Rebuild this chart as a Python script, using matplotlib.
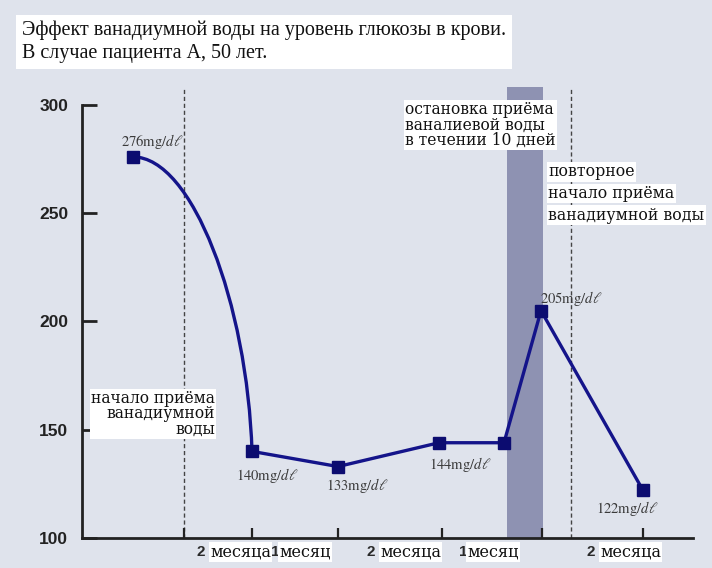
import matplotlib
matplotlib.use("Agg")
import matplotlib.pyplot as plt
from matplotlib.path import Path
from matplotlib.patches import PathPatch
import matplotlib.transforms as mtrans

# ---- data ----
point_x = [51, 170, 256, 357, 422, 459, 561]          # timeline positions (arbitrary units)
glucose = [276, 140, 133, 144, 144, 205, 122]          # mg/dl
value_labels = ["276", "140", "133", "144", None, "205", "122"]
tick_x = [102, 170, 256, 360, 460, 561]
y_ticks = [100, 150, 200, 250, 300]
period_nums = ["2 ", "1", "2 ", "1", "2 "]
period_words = ["месяца", "месяц", "месяца", "месяц", "месяца"]
period_x = [128, 197, 298, 385, 518]
dashed_x = [102, 489]
pause_band = [425, 461]

title = "Эффект ванадиумной воды на уровень глюкозы в крови.\nВ случае пациента А, 50 лет."
note_start = ["начало приёма", "ванадиумной", "воды"]
note_stop = "остановка приёма\nваналиевой воды\nв течении 10 дней"
note_restart = ["повторное", "начало приёма", "ванадиумной воды"]

BG = "#dfe3ec"
LINE = "#14148a"
MARK = "#0c0c70"

plt.rcParams["mathtext.fontset"] = "stix"

fig = plt.figure(figsize=(7.12, 5.68), dpi=100, facecolor=BG)
W, H = 712, 568
ax = fig.add_axes([82 / W, 30 / H, (693 - 82) / W, (538 - 87) / H])
ax.set_facecolor(BG)
ax.set_xlim(0, 611)
ax.set_ylim(100, 300 + 18 / 108.5 * 50)

for s in ["top", "right"]:
    ax.spines[s].set_visible(False)
ax.spines["left"].set_bounds(100, 300)
for s in ["left", "bottom"]:
    ax.spines[s].set_linewidth(2.0)
    ax.spines[s].set_color("#222222")

ax.set_yticks(y_ticks)
ax.set_yticklabels([str(v) for v in y_ticks], fontfamily="Liberation Sans",
                   fontweight="bold", fontsize=12.5, color="#222222")
ax.tick_params(axis="y", direction="in", length=11, width=2, pad=10, color="#222222")
ax.set_xticks(tick_x)
ax.set_xticklabels([])
ax.tick_params(axis="x", direction="in", length=7, width=1.6, color="#222222")

# pause band
ax.axvspan(pause_band[0], pause_band[1], color="#8e92b2", zorder=1, lw=0)
# dashed vertical lines
for dx in dashed_x:
    ax.axvline(dx, color="#444444", lw=1.0, ls=(0, (3, 2)), zorder=1.5)

# first segment: smooth curve (bezier built from the two data points)
x0, y0, x1, y1 = point_x[0], glucose[0], point_x[1], glucose[1]
dx_, dy_ = x1 - x0, y0 - y1
verts = [(x0, y0), (x0 + 0.5 * dx_, y0), (x1 - 0.04 * dx_, y1 + 0.5 * dy_), (x1, y1)]
path = Path(verts, [Path.MOVETO, Path.CURVE4, Path.CURVE4, Path.CURVE4])
ax.add_patch(PathPatch(path, fc="none", ec=LINE, lw=2.4, zorder=3, capstyle="round"))
# remaining straight segments
ax.plot(point_x[1:], glucose[1:], color=LINE, lw=2.4, zorder=3, solid_joinstyle="miter")
ax.plot(point_x, glucose, ls="none", marker="s", ms=8.5, color=MARK, zorder=4)

# value labels
label_offsets = [(14, 11), (11, -17), (14, -14), (15, -16), None, (22, 9), (-11.5, -13)]
for x, y, lab, off in zip(point_x, glucose, value_labels, label_offsets):
    if lab is None:
        continue
    ax.annotate(r"$\mathrm{%smg}/\mathit{d\ell}$" % lab, (x, y), xytext=off,
                textcoords="offset points", ha="center", va="center",
                fontsize=10.5, color="#3a3a3a", zorder=5)

# period labels below axis
blend = mtrans.blended_transform_factory(ax.transData, ax.transAxes)
for px, num, word in zip(period_x, period_nums, period_words):
    ax.text(px, -0.031, num, transform=blend, ha="right", va="center",
            fontfamily="Liberation Sans", fontweight="bold", fontsize=11,
            color="#2a2a2a", clip_on=False)
    ax.text(px, -0.031, word, transform=blend, ha="left", va="center",
            fontfamily="DejaVu Serif", fontsize=11.5, color="#111111",
            bbox=dict(fc="white", ec="none", pad=1.0), clip_on=False)

# title
fig.text(22 / W, 1 - 42 / H, title, ha="left", va="center", fontfamily="Liberation Serif",
         fontsize=14.5, color="#111111", linespacing=1.3,
         bbox=dict(fc="white", ec="none", pad=4))

# notes
fig.text(215 / W, 1 - 414 / H, "\n".join(note_start), ha="right", va="center",
         multialignment="right", fontfamily="DejaVu Serif", fontsize=11.2,
         color="#111111", linespacing=0.85,
         bbox=dict(fc="white", ec="none", pad=1.0))
fig.text(405 / W, 1 - 125 / H, note_stop, ha="left", va="center",
         fontfamily="DejaVu Serif", fontsize=11.2, color="#111111", linespacing=0.85,
         bbox=dict(fc="white", ec="none", pad=1.0))
for i, line in enumerate(note_restart):
    fig.text(548 / W, 1 - (172 + 21.5 * i) / H, line, ha="left", va="center",
             fontfamily="DejaVu Serif", fontsize=11.3, color="#111111",
             bbox=dict(fc="white", ec="none", pad=1.0))

fig.savefig("out.png", dpi=100, facecolor=BG)
